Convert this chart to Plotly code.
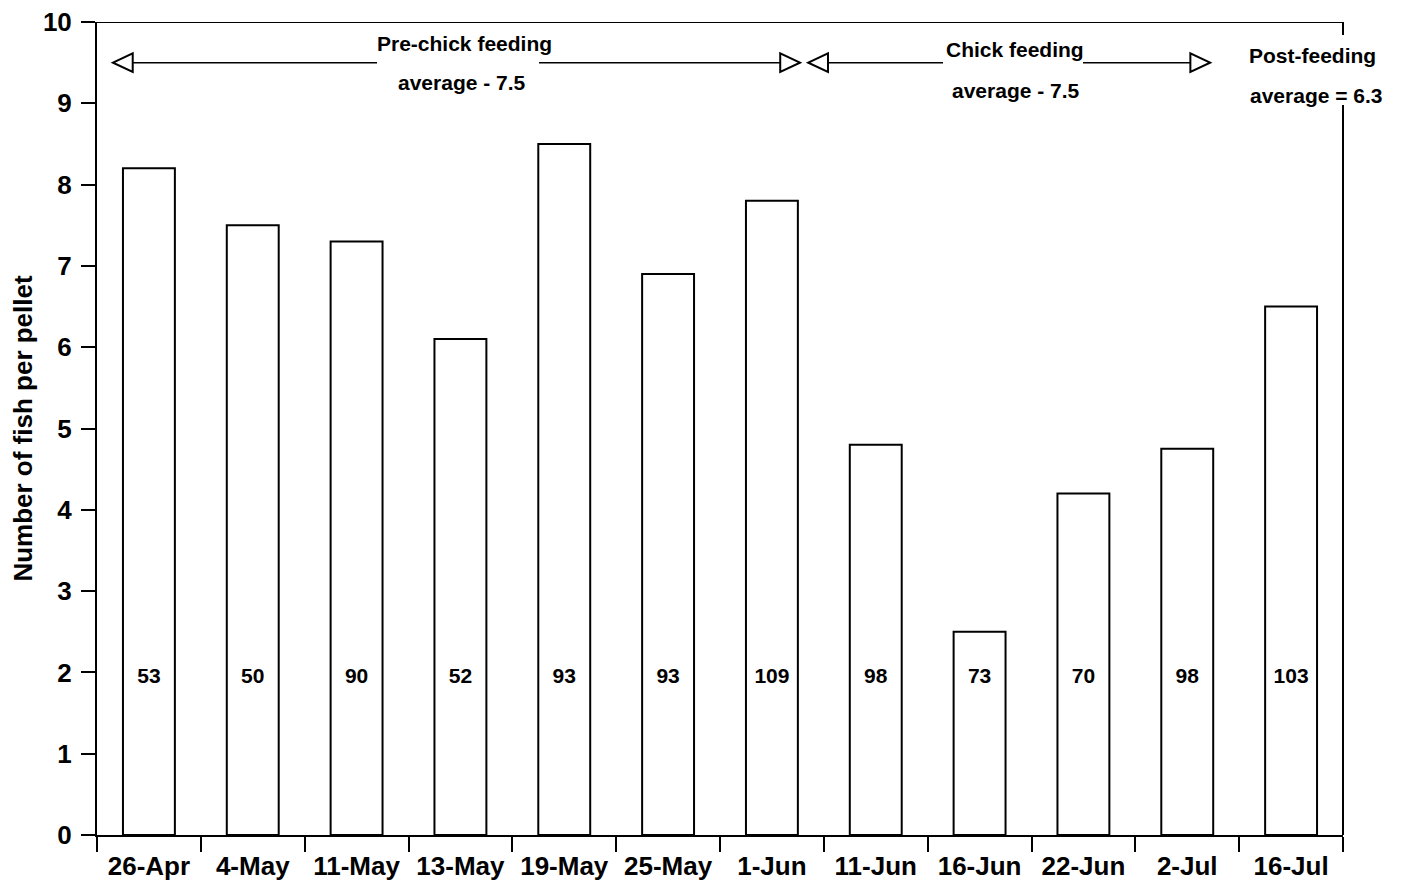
import plotly.graph_objects as go

dates = ["26-Apr", "4-May", "11-May", "13-May", "19-May", "25-May", "1-Jun",
         "11-Jun", "16-Jun", "22-Jun", "2-Jul", "16-Jul"]
fish_per_pellet = [8.2, 7.5, 7.3, 6.1, 8.5, 6.9, 7.8, 4.8, 2.5, 4.2, 4.75, 6.5]
pellet_counts = [53, 50, 90, 52, 93, 93, 109, 98, 73, 70, 98, 103]

FONT = "Liberation Sans, Arial, sans-serif"
xs = list(range(len(dates)))
COUNT_Y = 1.93

fig = go.Figure()
fig.add_trace(go.Bar(
    x=xs, y=fish_per_pellet, width=0.5,
    marker=dict(color="white", line=dict(color="black", width=2)),
    showlegend=False, hoverinfo="skip"))
fig.add_trace(go.Scatter(
    x=xs, y=[COUNT_Y] * len(xs), mode="text", text=[str(c) for c in pellet_counts],
    textposition="middle center",
    textfont=dict(family=FONT, size=21, color="black", weight="bold"),
    showlegend=False, hoverinfo="skip"))

shapes = []
line = dict(color="black", width=1.5)
# frame: top and broken right border
shapes.append(dict(type="line", xref="paper", yref="y", x0=0, x1=1, y0=10, y1=10,
                   line=dict(color="black", width=2)))
shapes.append(dict(type="line", xref="paper", yref="y", x0=1, x1=1, y0=0, y1=8.98,
                   line=dict(color="black", width=2)))
shapes.append(dict(type="line", xref="paper", yref="y", x0=1, x1=1, y0=9.84, y1=10,
                   line=dict(color="black", width=2)))

ya = 9.5
tw, th = 0.19, 0.115
segments = [(-0.346, 2.197), (3.757, 6.27), (6.35, 7.648), (8.996, 10.22)]
for a, b in segments:
    shapes.append(dict(type="line", xref="x", yref="y", x0=a, x1=b, y0=ya, y1=ya, line=line))
left_tips = [-0.346, 6.35]
right_tips = [6.27, 10.22]
for t in left_tips:
    shapes.append(dict(type="path", xref="x", yref="y",
                       path=f"M {t},{ya} L {t+tw},{ya+th} L {t+tw},{ya-th} Z",
                       fillcolor="white", line=dict(color="black", width=2)))
for t in right_tips:
    shapes.append(dict(type="path", xref="x", yref="y",
                       path=f"M {t},{ya} L {t-tw},{ya+th} L {t-tw},{ya-th} Z",
                       fillcolor="white", line=dict(color="black", width=2)))

annots = [
    ("Pre-chick feeding", 3.04, 9.73),
    ("average - 7.5", 3.02, 9.26),
    ("Chick feeding", 8.34, 9.66),
    ("average - 7.5", 8.35, 9.16),
    ("Post-feeding", 11.21, 9.59),
    ("average = 6.3", 11.24, 9.10),
]
annotations = [dict(text=t, x=x, y=y, xref="x", yref="y", showarrow=False,
                    font=dict(family=FONT, size=21, color="black", weight="bold"),
                    xanchor="center", yanchor="middle") for t, x, y in annots]

fig.update_layout(
    width=1399, height=879,
    margin=dict(l=89, r=64, t=14, b=52),
    paper_bgcolor="white", plot_bgcolor="white",
    font=dict(family=FONT, color="black"),
    shapes=shapes, annotations=annotations,
    bargap=0.5,
    xaxis=dict(
        range=[-0.5, 11.5], tickmode="array", tickvals=xs, ticktext=dates,
        ticks="", showgrid=False, zeroline=False, automargin=False,
        showline=True, linecolor="black", linewidth=2,
        tickfont=dict(family=FONT, size=26, color="black", weight="bold"),
        ticklabelstandoff=7, ticklabeloverflow="allow",
        minor=dict(tickmode="array", tickvals=[x - 0.5 for x in xs] + [xs[-1] + 0.5],
                   ticks="outside", ticklen=15, tickwidth=1.5, tickcolor="black",
                   showgrid=False),
    ),
    yaxis=dict(
        range=[0, 10], dtick=1, tick0=0, ticks="outside", ticklen=14, tickwidth=1.5,
        tickcolor="black", showgrid=False, zeroline=False, automargin=False,
        showline=True, linecolor="black", linewidth=2,
        tickfont=dict(family=FONT, size=26, color="black", weight="bold"),
        ticklabelstandoff=4, ticklabeloverflow="allow",
        title=dict(text="Number of fish per pellet",
                   font=dict(family=FONT, size=26, color="black", weight="bold"),
                   standoff=10),
    ),
)

fig.write_html("out.html")
